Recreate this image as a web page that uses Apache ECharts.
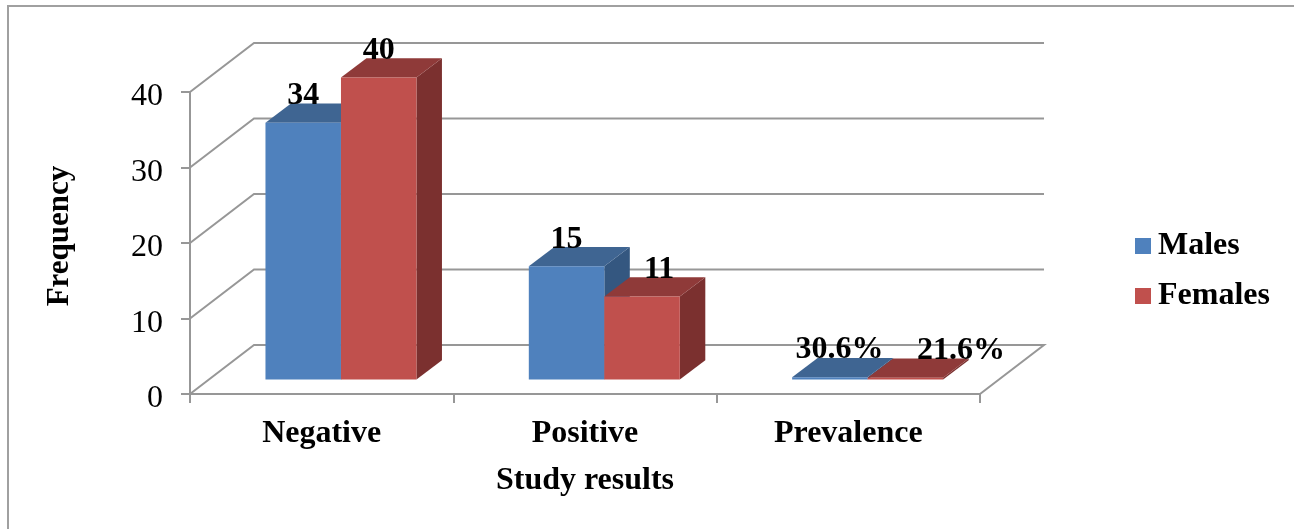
<!DOCTYPE html>
<html>
<head>
<meta charset="utf-8">
<style>
  html, body { margin: 0; padding: 0; background: #fff; }
  #chart { width: 1294px; height: 529px; }
</style>
<script src="https://cdn.jsdelivr.net/npm/echarts@6/dist/echarts.min.js"></script>
</head>
<body>
<div id="chart"></div>
<script>
// data
var categories = ['Negative', 'Positive', 'Prevalence'];
var males = [34, 15, 0.306];
var females = [40, 11, 0.216];
var maleLabels = ['34', '15', '30.6%'];
var femaleLabels = ['40', '11', '21.6%'];
var yTicks = [0, 10, 20, 30, 40];

var FONT = '"Liberation Serif", "Times New Roman", serif';
var GRID_LINE = '#979797';

// fake 3d: wall depth and where the bar box sits inside the floor
var WALL_DX = 64, WALL_DY = -49;
var BAR_DX = 25.5, BAR_DY = -19.3;
var FLOOR_DX = 19.3, FLOOR_DY = -14.5;
var BAR_W = 0.2867; // of the category band

function wallItem(params, api) {
  var y = api.coord([0, api.value(0)])[1];
  var cs = params.coordSys;
  var pts = [
    [cs.x, y],
    [cs.x + WALL_DX, y + WALL_DY],
    [cs.x + cs.width + WALL_DX, y + WALL_DY]
  ];
  // the floor also closes on the right side
  if (api.value(0) === 0) pts.push([cs.x + cs.width, y]);
  return {
    type: 'polyline',
    shape: { points: pts },
    style: { fill: null, stroke: GRID_LINE, lineWidth: 2 }
  };
}

// some labels were dragged to the right in the original
function labelShift(i, side) {
  if (i === 2) return side < 0 ? 9.5 : 55.7;
  if (i === 1 && side > 0) return 17;
  return 0;
}

function barItem(colors, labels, side) {
  return function (params, api) {
    var i = api.value(0);
    var base = api.coord([i, 0]);
    var top = api.coord([i, api.value(1)]);
    var w = api.size([1, 0])[0] * BAR_W;
    var x0 = base[0] + FLOOR_DX + (side < 0 ? -w : 0);
    var x1 = x0 + w;
    var yb = base[1] + FLOOR_DY;
    var yt = top[1] + FLOOR_DY;
    return {
      type: 'group',
      children: [
        { type: 'polygon', shape: { points: [[x1, yb], [x1 + BAR_DX, yb + BAR_DY], [x1 + BAR_DX, yt + BAR_DY], [x1, yt]] },
          style: { fill: colors.side } },
        { type: 'polygon', shape: { points: [[x0, yt], [x1, yt], [x1 + BAR_DX, yt + BAR_DY], [x0 + BAR_DX, yt + BAR_DY]] },
          style: { fill: colors.top } },
        { type: 'rect', shape: { x: x0, y: yt, width: w, height: yb - yt },
          style: { fill: colors.front } },
        { type: 'text', z2: 10,
          style: {
            text: labels[i], x: (x0 + x1) / 2 + labelShift(i, side), y: yt - 27,
            align: 'center', verticalAlign: 'middle',
            font: 'bold 32px ' + FONT, fill: '#000'
          } }
      ]
    };
  };
}

var chart = echarts.init(document.getElementById('chart'), null, { renderer: 'canvas' });
chart.setOption({
  backgroundColor: '#fff',
  animation: false,
  grid: { left: 190, right: 314, top: 92, bottom: 135 },
  legend: {
    orient: 'vertical',
    left: 1135,
    top: 230,
    padding: 0,
    itemWidth: 16,
    itemHeight: 16,
    itemGap: 18,
    data: [
      { name: 'Males', icon: 'rect', itemStyle: { color: '#4F81BD' } },
      { name: 'Females', icon: 'rect', itemStyle: { color: '#C0504D' } }
    ],
    textStyle: { fontFamily: FONT, fontWeight: 'bold', fontSize: 32, color: '#000', padding: [0, 0, 0, 2] }
  },
  xAxis: {
    type: 'category',
    data: categories,
    name: 'Study results',
    nameLocation: 'middle',
    nameGap: 71,
    nameTextStyle: { fontFamily: FONT, fontWeight: 'bold', fontSize: 32, color: '#000' },
    axisLine: { lineStyle: { color: GRID_LINE, width: 2 } },
    axisTick: { show: true, length: 9, lineStyle: { color: GRID_LINE, width: 2 } },
    axisLabel: { margin: 24, fontFamily: FONT, fontWeight: 'bold', fontSize: 32, color: '#000' },
    splitLine: { show: false }
  },
  yAxis: {
    type: 'value',
    min: 0,
    max: 40,
    interval: 10,
    name: 'Frequency',
    nameLocation: 'middle',
    nameGap: 115,
    nameTextStyle: { fontFamily: FONT, fontWeight: 'bold', fontSize: 31, color: '#000', padding: [0, 0, 0, 14] },
    axisLine: { show: true, lineStyle: { color: GRID_LINE, width: 2 } },
    axisTick: { show: true, length: 9, lineStyle: { color: GRID_LINE, width: 2 } },
    // sits a little under the tick, like the original
    axisLabel: { margin: 27, fontFamily: FONT, fontSize: 32, color: '#000', verticalAlign: 'top', lineHeight: 10 },
    splitLine: { show: false }
  },
  series: [
    {
      type: 'custom', name: 'walls', silent: true, z: 1,
      data: yTicks.map(function (v) { return [v]; }),
      encode: { y: 0 },
      renderItem: wallItem
    },
    {
      type: 'custom', name: 'Males', z: 2,
      itemStyle: { color: '#4F81BD' },
      data: males.map(function (v, i) { return [i, v]; }),
      encode: { x: 0, y: 1 },
      renderItem: barItem({ front: '#4F81BD', top: '#3F6592', side: '#345780' }, maleLabels, -1)
    },
    {
      type: 'custom', name: 'Females', z: 2,
      itemStyle: { color: '#C0504D' },
      data: females.map(function (v, i) { return [i, v]; }),
      encode: { x: 0, y: 1 },
      renderItem: barItem({ front: '#C0504D', top: '#8F3A39', side: '#7B302F' }, femaleLabels, 1)
    }
  ],
  graphic: [
    // frame of the original picture, only left and top edges are in shot
    { type: 'polyline', silent: true,
      shape: { points: [[8, 529], [8, 6], [1294, 6]] },
      style: { fill: null, stroke: '#a0a0a0', lineWidth: 2 } }
  ]
});
</script>
</body>
</html>
